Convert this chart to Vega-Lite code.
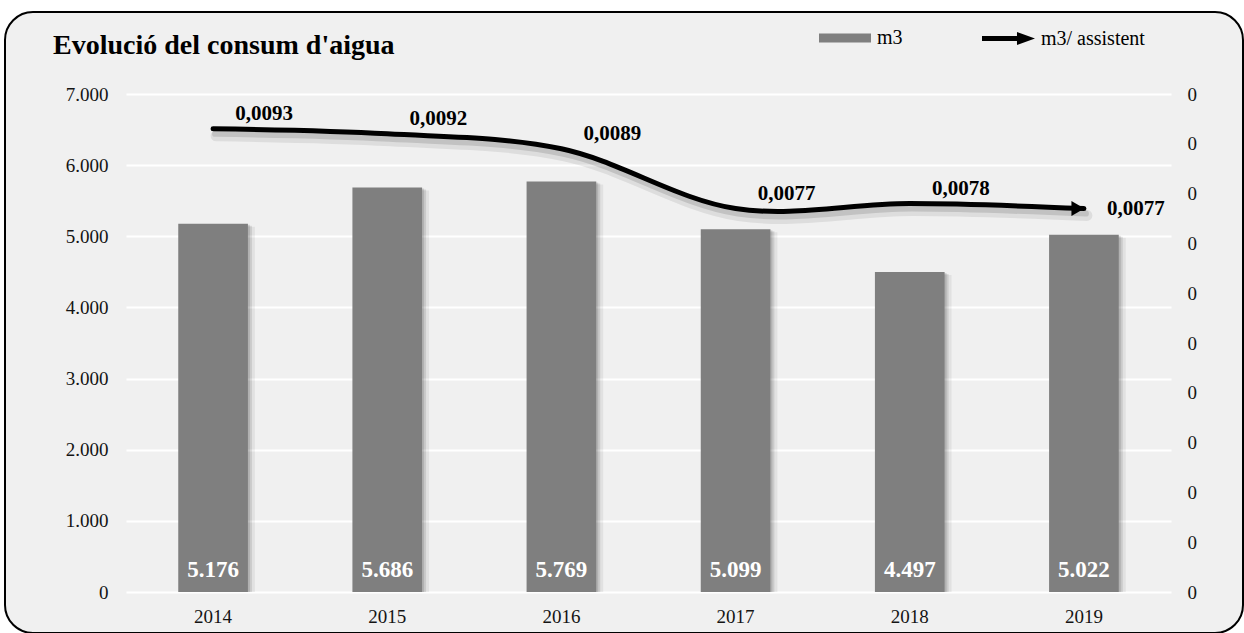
{
  "$schema": "https://vega.github.io/schema/vega-lite/v6.json",
  "width": 1238,
  "height": 621,
  "autosize": {"type": "none"},
  "padding": {"left": 5, "top": 12, "right": 1, "bottom": 0},
  "background": "#ffffff",
  "config": {
    "locale": {"number": {"decimal": ",", "thousands": ".", "grouping": [3], "currency": ["", " €"]}},
    "font": "Liberation Serif",
    "view": {"fill": "#f0f0f0", "stroke": "#000000", "strokeWidth": 2, "cornerRadius": 28},
    "axis": {"labelFont": "Liberation Serif", "labelFontSize": 19, "labelColor": "#141414", "ticks": false, "domain": false},
    "legend": {"labelFont": "Liberation Serif", "labelFontSize": 20, "labelColor": "#000000"}
  },
  "title": {
    "text": "Evolució del consum d'aigua",
    "anchor": "start",
    "frame": "group",
    "orient": "top",
    "offset": -70,
    "dx": 48,
    "baseline": "alphabetic",
    "font": "Liberation Serif",
    "fontSize": 28,
    "fontWeight": "bold",
    "color": "#000000"
  },
  "data": {
    "values": [
      {"year": "2014", "m3": 5176, "ratio": 0.0093},
      {"year": "2015", "m3": 5686, "ratio": 0.0092},
      {"year": "2016", "m3": 5769, "ratio": 0.0089},
      {"year": "2017", "m3": 5099, "ratio": 0.0077},
      {"year": "2018", "m3": 4497, "ratio": 0.0078},
      {"year": "2019", "m3": 5022, "ratio": 0.0077}
    ]
  },
  "layer": [
    {
      "layer": [
        {
          "mark": {"type": "bar", "color": "#000000", "opacity": 0.06, "xOffset": 7, "yOffset": 3},
          "encoding": {
            "x": {
              "field": "year", "type": "nominal",
              "scale": {"range": [121, 1166], "paddingInner": 0.6, "paddingOuter": 0.3},
              "axis": {"orient": "bottom", "offset": -41, "labelPadding": 15, "labelAngle": 0, "grid": false, "title": null}
            },
            "y": {
              "field": "m3", "type": "quantitative",
              "scale": {"domain": [0, 7000], "range": [580, 82], "nice": false},
              "axis": {"orient": "left", "offset": -121, "tickCount": 7, "format": ",.0f", "labelPadding": 18, "grid": true, "gridColor": "#ffffff", "gridWidth": 2, "gridOpacity": 1, "title": null}
            },
            "y2": {"datum": 0}
          }
        },
        {
          "mark": {"type": "bar", "color": "#000000", "opacity": 0.1, "xOffset": 4, "yOffset": 2},
          "encoding": {
            "x": {"field": "year", "type": "nominal"},
            "y": {"field": "m3", "type": "quantitative"},
            "y2": {"datum": 0}
          }
        },
        {
          "mark": {"type": "bar", "color": "#000000", "opacity": 0.12, "xOffset": 2, "yOffset": 1},
          "encoding": {
            "x": {"field": "year", "type": "nominal"},
            "y": {"field": "m3", "type": "quantitative"},
            "y2": {"datum": 0}
          }
        },
        {
          "mark": {"type": "bar"},
          "encoding": {
            "x": {"field": "year", "type": "nominal"},
            "y": {"field": "m3", "type": "quantitative"},
            "y2": {"datum": 0},
            "fill": {
              "datum": "m3", "type": "nominal",
              "scale": {"range": ["#7f7f7f"]},
              "legend": {
                "orient": "none", "legendX": 814, "legendY": 0, "title": null, "padding": 0,
                "symbolType": "M-1,-0.173L1,-0.173L1,0.173L-1,0.173Z",
                "symbolSize": 2704, "symbolStrokeWidth": 0, "labelOffset": 6
              }
            }
          }
        },
        {
          "mark": {"type": "text", "dy": -15, "baseline": "alphabetic", "align": "center", "font": "Liberation Serif", "fontSize": 23, "fontWeight": "bold", "color": "#ffffff"},
          "encoding": {
            "x": {"field": "year", "type": "nominal"},
            "y": {"datum": 0, "type": "quantitative"},
            "text": {"field": "m3", "type": "quantitative", "format": ",.0f"}
          }
        }
      ]
    },
    {
      "layer": [
        {
          "mark": {"type": "line", "interpolate": "catmull-rom", "stroke": "#000000", "opacity": 0.08, "strokeWidth": 11, "xOffset": 3, "yOffset": 7, "strokeCap": "round"},
          "encoding": {
            "x": {"field": "year", "type": "nominal"},
            "y": {
              "field": "ratio", "type": "quantitative",
              "scale": {"domain": [0, 0.01], "range": [580, 82], "nice": false},
              "axis": {"orient": "right", "offset": -72, "tickCount": 10, "format": ".0f", "labelPadding": 16, "grid": false, "title": null}
            }
          }
        },
        {
          "mark": {"type": "line", "interpolate": "catmull-rom", "stroke": "#000000", "opacity": 0.12, "strokeWidth": 6, "xOffset": 2, "yOffset": 5, "strokeCap": "round"},
          "encoding": {
            "x": {"field": "year", "type": "nominal"},
            "y": {"field": "ratio", "type": "quantitative"}
          }
        },
        {
          "mark": {"type": "line", "interpolate": "catmull-rom", "strokeWidth": 5, "strokeCap": "round"},
          "encoding": {
            "x": {"field": "year", "type": "nominal"},
            "y": {"field": "ratio", "type": "quantitative"},
            "stroke": {
              "datum": "m3/ assistent", "type": "nominal",
              "scale": {"range": ["#000000"]},
              "legend": {
                "orient": "none", "legendX": 977, "legendY": 0, "title": null, "padding": 0,
                "symbolType": "M-1,-0.094L0.32,-0.094L0.32,-0.245L1,0L0.32,0.245L0.32,0.094L-1,0.094Z",
                "symbolSize": 2809, "symbolStrokeWidth": 0, "symbolFillColor": "#000000", "labelOffset": 6,
                "encode": {"symbols": {"update": {"fill": {"value": "#000000"}, "strokeWidth": {"value": 0}}}}
              }
            }
          }
        },
        {
          "transform": [{"filter": "datum.year == '2019'"}],
          "mark": {"type": "point", "shape": "triangle-right", "size": 225, "filled": true, "color": "#000000", "opacity": 1, "xOffset": -6},
          "encoding": {
            "x": {"field": "year", "type": "nominal"},
            "y": {"field": "ratio", "type": "quantitative"}
          }
        },
        {
          "transform": [{"filter": "datum.year != '2019'"}],
          "mark": {"type": "text", "dx": 51, "dy": -9, "baseline": "alphabetic", "align": "center", "font": "Liberation Serif", "fontSize": 21, "fontWeight": "bold", "color": "#000000"},
          "encoding": {
            "x": {"field": "year", "type": "nominal"},
            "y": {"field": "ratio", "type": "quantitative"},
            "text": {"field": "ratio", "type": "quantitative", "format": ".4f"}
          }
        },
        {
          "transform": [{"filter": "datum.year == '2019'"}],
          "mark": {"type": "text", "dx": 52, "dy": 6.5, "baseline": "alphabetic", "align": "center", "font": "Liberation Serif", "fontSize": 21, "fontWeight": "bold", "color": "#000000"},
          "encoding": {
            "x": {"field": "year", "type": "nominal"},
            "y": {"field": "ratio", "type": "quantitative"},
            "text": {"field": "ratio", "type": "quantitative", "format": ".4f"}
          }
        }
      ]
    }
  ],
  "resolve": {"scale": {"y": "independent"}}
}
